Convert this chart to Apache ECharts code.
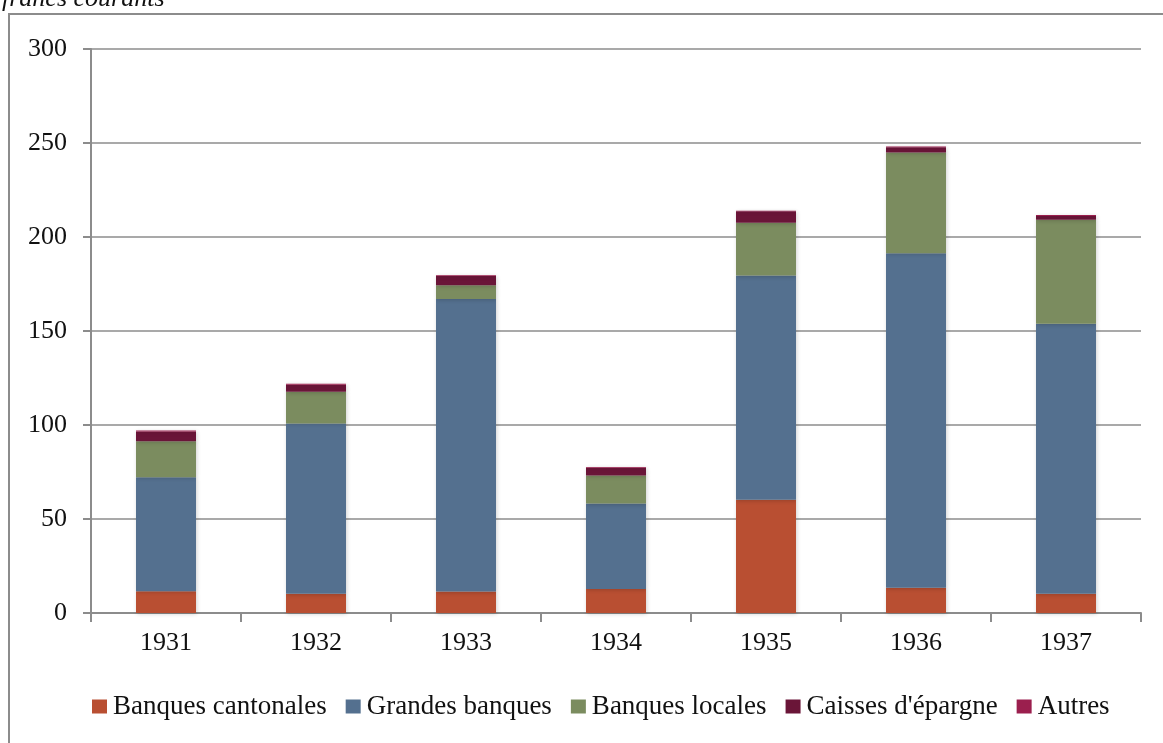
<!DOCTYPE html>
<html>
<head>
<meta charset="utf-8">
<script src="https://cdn.jsdelivr.net/npm/echarts@6/dist/echarts.min.js"></script>
<style>
html,body{margin:0;padding:0;background:#fff;}
#c{width:1163px;height:743px;}
</style>
</head>
<body>
<div id="c"></div>
<script>
var years = ['1931','1932','1933','1934','1935','1936','1937'];
var banquesCantonales = [11.6, 10.2, 11.4, 12.8, 60.3, 13.4, 10.2];
var grandesBanques    = [60.6, 90.6, 155.6, 45.4, 119.2, 177.9, 143.7];
var banquesLocales    = [19.2, 16.9, 7.4, 15.0, 28.1, 53.7, 55.3];
var caissesEpargne    = [5.1, 3.7, 4.8, 4.1, 6.1, 2.7, 2.0];
var autres            = [0.6, 0.5, 0.5, 0.3, 0.3, 0.5, 0.5];
var yTicks = [0, 50, 100, 150, 200, 250, 300];

var seriesDefs = [
  {name:'Banques cantonales', data:banquesCantonales, color:'#B94F32'},
  {name:'Grandes banques', data:grandesBanques, color:'#54708F'},
  {name:'Banques locales', data:banquesLocales, color:'#7B8C5F'},
  {name:"Caisses d'épargne", data:caissesEpargne, color:'#6A1538'},
  {name:'Autres', data:autres, color:'#9B1F4E'}
];

var font = '"Liberation Serif", "DejaVu Serif", serif';
var chart = echarts.init(document.getElementById('c'), null, {renderer:'canvas'});
chart.setOption({
  animation:false,
  backgroundColor:'#fff',
  textStyle:{fontFamily:font},
  graphic:[
    {type:'rect', shape:{x:9, y:14, width:1170, height:760}, style:{fill:'none', stroke:'#8c8c8c', lineWidth:2}, z:-1},
    {type:'text', left:2, top:-14, style:{text:'francs courants', font:'italic 26px '+font, fill:'#111'}}
  ],
  grid:{left:91, right:22, top:49, bottom:130, containLabel:false},
  legend:{
    left:92, top:693, padding:0,
    itemWidth:15, itemHeight:14, itemGap:19,
    icon:'rect',
    textStyle:{fontFamily:font, fontSize:27, color:'#111', padding:[0,0,0,1]},
    data:seriesDefs.map(function(s){return s.name;})
  },
  xAxis:{
    type:'category', data:years,
    axisLine:{lineStyle:{color:'#8c8c8c', width:2}},
    axisTick:{show:true, length:9, alignWithLabel:false, lineStyle:{color:'#8c8c8c', width:2}},
    axisLabel:{fontFamily:font, fontSize:26, color:'#111', margin:17}
  },
  yAxis:{
    type:'value', min:0, max:300, interval:50,
    axisLine:{show:true, lineStyle:{color:'#8c8c8c', width:2}},
    axisTick:{show:true, length:8, lineStyle:{color:'#8c8c8c', width:2}},
    axisLabel:{fontFamily:font, fontSize:26, color:'#111', margin:24,
      formatter:function(v){return yTicks.indexOf(v)>=0 ? String(v) : '';}},
    splitLine:{lineStyle:{color:'#8c8c8c', width:1.5}}
  },
  series:seriesDefs.map(function(s){
    return {
      name:s.name, type:'bar', stack:'total', data:s.data, barWidth:60,
      itemStyle:{color:s.color, shadowBlur:4, shadowColor:'rgba(0,0,0,0.18)', shadowOffsetX:1, shadowOffsetY:1}
    };
  })
});
</script>
</body>
</html>
